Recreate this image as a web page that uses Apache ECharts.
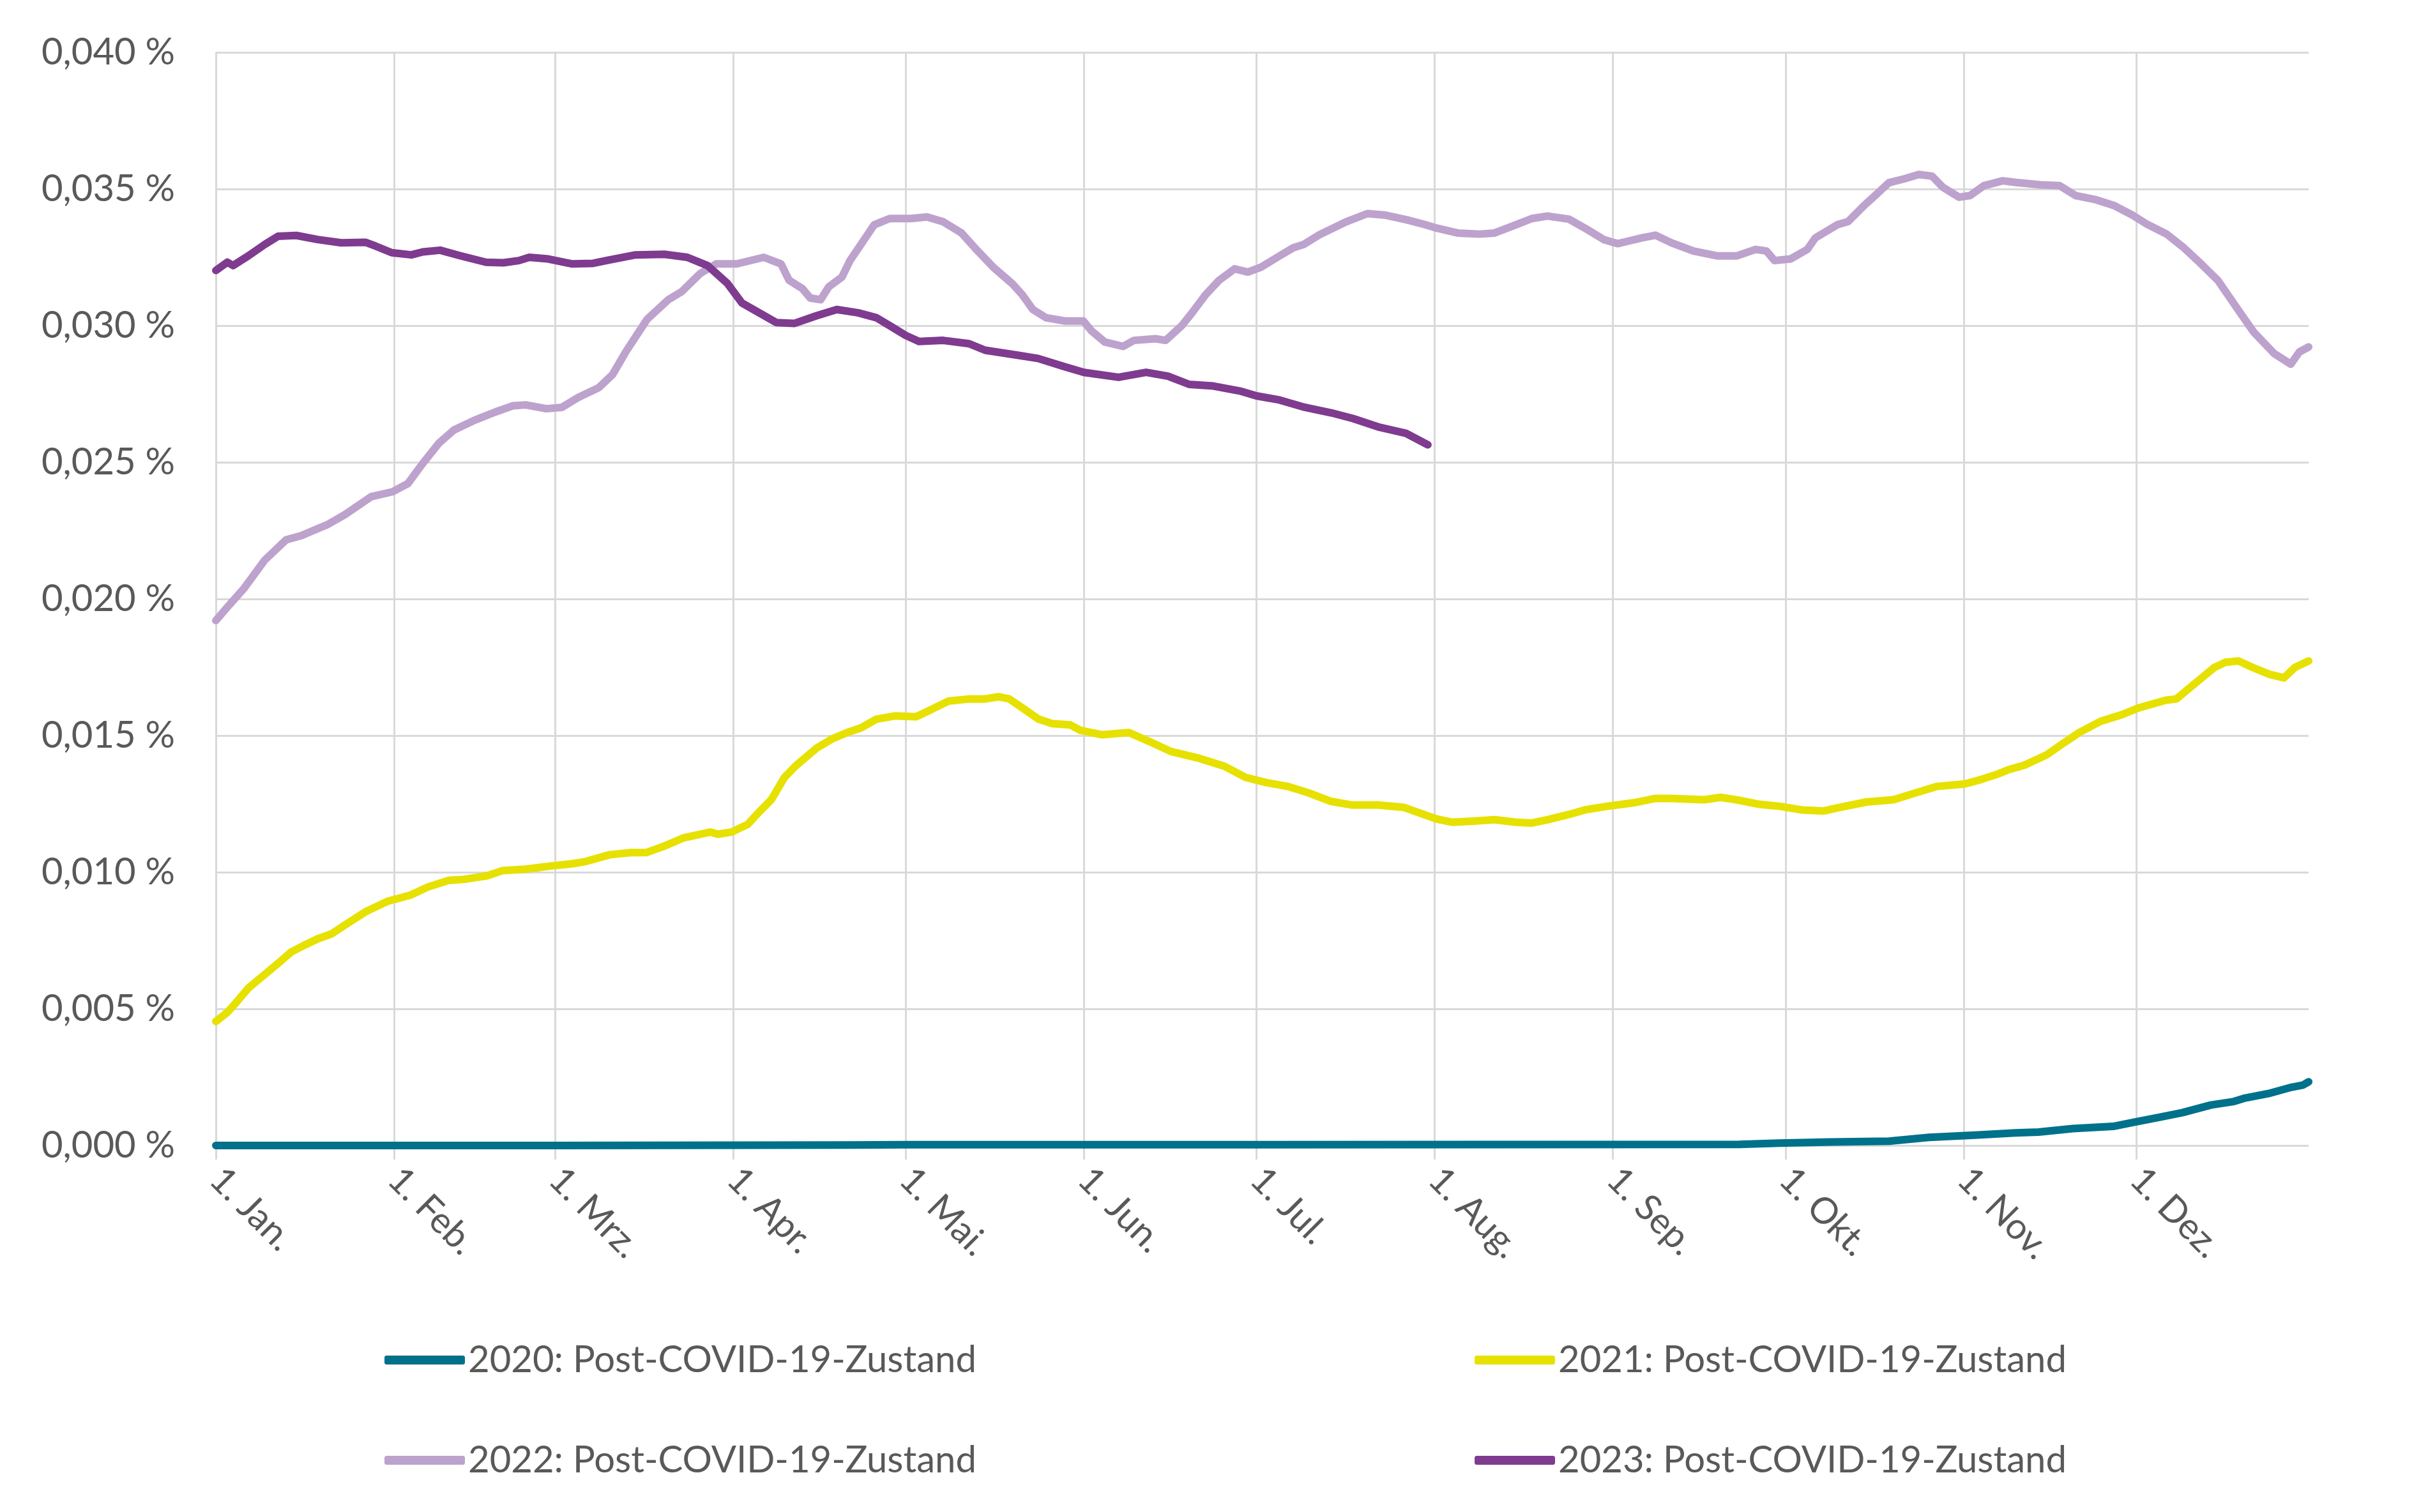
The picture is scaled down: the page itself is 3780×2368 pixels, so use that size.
<!DOCTYPE html>
<html>
<head>
<meta charset="utf-8">
<script src="https://cdn.jsdelivr.net/npm/echarts@6/dist/echarts.min.js"></script>
<style>
html,body{margin:0;padding:0;background:#fff;}
#chart{width:3780px;height:2368px;}
</style>
</head>
<body>
<div id="chart"></div>
<script>
// Day of year (0 = 1. Jan.) and values in %
const monthStarts = [0, 31, 59, 90, 120, 151, 181, 212, 243, 273, 304, 334];
const monthLabels = ['1. Jan.', '1. Feb.', '1. Mrz.', '1. Apr.', '1. Mai.', '1. Jun.', '1. Jul.', '1. Aug.', '1. Sep.', '1. Okt.', '1. Nov.', '1. Dez.'];
const yTicks = [0, 0.005, 0.010, 0.015, 0.020, 0.025, 0.030, 0.035, 0.040];

const seriesNames = ['2020: Post-COVID-19-Zustand', '2021: Post-COVID-19-Zustand', '2022: Post-COVID-19-Zustand', '2023: Post-COVID-19-Zustand'];

const days2020 = [0, 60, 95, 110, 120, 180, 265, 272, 281, 291, 298, 306, 313, 317, 323, 330, 334, 338, 342, 347, 351, 353, 357, 361, 363, 364];
const vals2020 = [0, 0, 0.00001, 0.00002, 0.00003, 0.00003, 0.00004, 0.00009, 0.00013, 0.00016, 0.00030, 0.00038, 0.00046, 0.00049, 0.00062, 0.00070, 0.00087, 0.00103, 0.00120, 0.00148, 0.00161, 0.00174, 0.00190, 0.00213, 0.00221, 0.00233];

const days2021 = [0, 2, 3.4, 5.7, 8.5, 11.3, 13.1, 15.4, 17.8, 20.1, 22.4, 26.1, 29.8, 33.8, 36.9, 40.5, 43.2, 47.2, 49.9, 53.9, 58.4, 62, 64.3, 68.5, 72.2, 74.9, 77.7, 81.4, 86, 87.3, 89.7, 92.5, 94.3, 96.6, 98.9, 100.8, 104.5, 107.1, 109.8, 112.2, 114.9, 118.2, 121.8, 123.7, 127.4, 131.1, 133.8, 136.1, 138, 140.3, 143.1, 145.4, 148.6, 150.4, 154.1, 158.8, 162.4, 166.1, 170.8, 175.4, 179.1, 182.7, 186.4, 190.1, 193.8, 197.5, 202.1, 206.7, 209.5, 212.3, 215, 218.7, 222.4, 226.1, 228.9, 231.6, 235.3, 238.1, 241.9, 246.6, 250.4, 253.2, 258.8, 261.7, 264.5, 268.3, 272.1, 275.8, 279.6, 282.4, 287.1, 291.8, 295.6, 299.4, 304.2, 307, 309.9, 311.8, 314.6, 318.4, 321.2, 324.1, 327.8, 331.6, 334.4, 339.1, 341, 343.8, 347.6, 349.5, 351.8, 354.3, 357.2, 359.7, 361.6, 364];
const vals2021 = [0.00454, 0.00487, 0.0052, 0.00577, 0.00626, 0.00675, 0.00708, 0.00733, 0.00757, 0.00774, 0.00806, 0.00856, 0.00893, 0.00916, 0.00946, 0.0097, 0.00974, 0.00987, 0.01006, 0.01011, 0.01023, 0.01031, 0.01039, 0.01064, 0.01072, 0.01072, 0.01093, 0.01126, 0.01147, 0.01139, 0.01147, 0.01175, 0.01216, 0.01265, 0.01347, 0.01388, 0.01454, 0.01487, 0.01511, 0.01528, 0.0156, 0.01572, 0.01569, 0.01588, 0.01626, 0.01634, 0.01634, 0.01642, 0.01634, 0.01601, 0.0156, 0.01544, 0.01539, 0.01519, 0.01503, 0.01511, 0.01478, 0.01442, 0.01418, 0.01388, 0.01347, 0.01328, 0.01314, 0.0129, 0.0126, 0.01246, 0.01246, 0.01237, 0.01216, 0.01195, 0.01183, 0.01187, 0.01192, 0.01183, 0.0118, 0.01192, 0.01211, 0.01228, 0.01241, 0.01254, 0.0127, 0.0127, 0.01265, 0.01274, 0.01265, 0.01249, 0.01241, 0.01228, 0.01224, 0.01237, 0.01257, 0.01265, 0.0129, 0.01314, 0.01323, 0.01339, 0.01359, 0.01375, 0.01392, 0.01429, 0.0147, 0.01511, 0.01552, 0.01577, 0.01601, 0.01629, 0.01634, 0.01683, 0.01749, 0.01768, 0.01773, 0.01749, 0.01724, 0.01711, 0.01749, 0.01773];

const days2022 = [0, 2, 4.8, 8.5, 12.2, 14.9, 17.7, 19.5, 22.4, 27, 30.7, 33.4, 36.1, 38.8, 41.4, 45, 48.6, 51.7, 53.9, 57.5, 60.2, 63, 66.6, 69, 71.3, 75, 78.7, 81, 84.2, 87, 90.6, 95.3, 98.3, 99.7, 102, 103.4, 105.2, 106.6, 108.9, 110.3, 112.2, 114.5, 117.2, 120.9, 123.7, 126.5, 129.7, 132, 135.2, 138.5, 140.3, 142.1, 144.4, 147.7, 150.9, 152.3, 154.6, 157.8, 159.7, 163.4, 165.2, 168, 169.8, 172.1, 174.5, 177.2, 179.5, 181.8, 184.6, 187.4, 189.2, 192, 196.6, 200.3, 203.5, 207.2, 210.4, 212.3, 216, 219.7, 222.4, 226.1, 228.9, 231.6, 235.3, 238.1, 241.4, 243.8, 245.6, 248, 250.4, 253.2, 257, 261.2, 264.5, 267.8, 269.7, 271.1, 273.9, 276.8, 278.2, 282, 283.9, 286.7, 288.6, 291, 293.8, 296.2, 298.5, 300.4, 303.2, 305.1, 307.5, 310.8, 313.1, 317.4, 320.7, 323.5, 326.8, 330.1, 333.4, 335.9, 339.3, 342.3, 345.2, 348.2, 352.1, 354.5, 358, 360.9, 362.4, 364];
const vals2022 = [0.01921, 0.0197, 0.02036, 0.02142, 0.02216, 0.02232, 0.02257, 0.02273, 0.02308, 0.02374, 0.02392, 0.02422, 0.02499, 0.0257, 0.02618, 0.02654, 0.02684, 0.02707, 0.0271, 0.02696, 0.02701, 0.02737, 0.02773, 0.02821, 0.02904, 0.03023, 0.03095, 0.03124, 0.0319, 0.03226, 0.03226, 0.0325, 0.03226, 0.03166, 0.03136, 0.03101, 0.03095, 0.03142, 0.03178, 0.03238, 0.03297, 0.03369, 0.03392, 0.03392, 0.03398, 0.0338, 0.03339, 0.03285, 0.03214, 0.03154, 0.03112, 0.03059, 0.03029, 0.03017, 0.03017, 0.02981, 0.0294, 0.02924, 0.02946, 0.02952, 0.02946, 0.03, 0.03047, 0.03112, 0.03166, 0.03208, 0.03196, 0.03214, 0.0325, 0.03285, 0.03297, 0.03333, 0.0338, 0.0341, 0.03404, 0.03387, 0.03369, 0.03357, 0.03339, 0.03335, 0.03339, 0.03369, 0.03392, 0.03401, 0.0339, 0.03357, 0.03315, 0.033, 0.03309, 0.03321, 0.03331, 0.03303, 0.03273, 0.03255, 0.03255, 0.03279, 0.03273, 0.03238, 0.03244, 0.03279, 0.03321, 0.03369, 0.03381, 0.0344, 0.03476, 0.03523, 0.03538, 0.03553, 0.03547, 0.03506, 0.0347, 0.03476, 0.03512, 0.0353, 0.03524, 0.03515, 0.03512, 0.03476, 0.03462, 0.0344, 0.03404, 0.03371, 0.03335, 0.03285, 0.03228, 0.03166, 0.03047, 0.02975, 0.02898, 0.02859, 0.02904, 0.02922];

const days2023 = [0, 2, 3, 5.7, 8.5, 10.8, 14, 17.7, 21.8, 26, 27.8, 30.6, 34, 36, 39, 42.5, 47, 50, 52.7, 54.5, 57.8, 62, 65.6, 68.3, 73, 78, 82, 85.5, 89, 91.5, 93.5, 97.5, 100.6, 104.3, 108, 111.7, 114.9, 117.2, 120, 122.3, 126.5, 131, 133.8, 139.4, 143, 147.6, 151, 157, 161.8, 165.6, 169.3, 173.5, 178.1, 181, 185, 189.4, 194, 197.8, 202.4, 207, 210.8];
const vals2023 = [0.03202, 0.03232, 0.0322, 0.03256, 0.03297, 0.03327, 0.0333, 0.03315, 0.03303, 0.03305, 0.03291, 0.03267, 0.03259, 0.0327, 0.03276, 0.03256, 0.03232, 0.0323, 0.03238, 0.0325, 0.03244, 0.03226, 0.03228, 0.0324, 0.03259, 0.03261, 0.0325, 0.0322, 0.03154, 0.03083, 0.03059, 0.03011, 0.03008, 0.03035, 0.03059, 0.03047, 0.03029, 0.03, 0.02964, 0.02942, 0.02946, 0.02934, 0.0291, 0.02892, 0.0288, 0.0285, 0.02829, 0.02811, 0.02829, 0.02815, 0.02785, 0.02779, 0.02761, 0.02743, 0.02728, 0.02701, 0.02681, 0.0266, 0.02628, 0.02606, 0.02564];

const colors = ['#00718B', '#E6E100', '#BDA2CD', '#7F3B8F'];

function zip(d, v) { return d.map((x, i) => [x, v[i]]); }
const allData = [zip(days2020, vals2020), zip(days2021, vals2021), zip(days2022, vals2022), zip(days2023, vals2023)];

const textColor = '#595959';
const font = 'Lato';
const chart = echarts.init(document.getElementById('chart'), null, { renderer: 'canvas' });

const legendText = { color: textColor, fontSize: 58, fontFamily: font, lineHeight: 64 };

chart.setOption({
  animation: false,
  backgroundColor: '#ffffff',
  grid: { left: 338, right: 165, top: 82, bottom: 574, containLabel: false },
  xAxis: {
    type: 'value',
    min: 0,
    max: 364,
    axisLine: { show: false },
    axisTick: { show: true, customValues: monthStarts, length: 22, lineStyle: { color: '#D9D9D9', width: 3 } },
    splitLine: { show: true, lineStyle: { color: '#D9D9D9', width: 3 } },
    axisLabel: {
      customValues: monthStarts,
      rotate: -45,
      margin: 44,
      color: textColor,
      fontSize: 57,
      fontFamily: font,
      formatter: function (v) { const i = monthStarts.indexOf(v); return i >= 0 ? monthLabels[i] : ''; }
    }
  },
  yAxis: {
    type: 'value',
    min: yTicks[0],
    max: yTicks[yTicks.length - 1],
    interval: 0.005,
    axisLine: { show: false },
    axisTick: { show: false },
    splitLine: { show: true, lineStyle: { color: '#D9D9D9', width: 3 } },
    axisLabel: {
      margin: 64,
      color: textColor,
      fontSize: 58,
      fontFamily: font,
      formatter: function (v) { return v.toFixed(3).replace('.', ',') + ' %'; }
    }
  },
  legend: [
    {
      data: [seriesNames[0], seriesNames[2]],
      orient: 'vertical',
      left: 597,
      top: 2093,
      itemWidth: 126,
      itemHeight: 14,
      itemGap: 93,
      icon: 'roundRect',
      textStyle: legendText
    },
    {
      data: [seriesNames[1], seriesNames[3]],
      orient: 'vertical',
      left: 2304,
      top: 2093,
      itemWidth: 126,
      itemHeight: 14,
      itemGap: 93,
      icon: 'roundRect',
      textStyle: legendText
    }
  ],
  series: seriesNames.map((name, i) => ({
    name: name,
    type: 'line',
    data: allData[i],
    showSymbol: false,
    symbol: 'none',
    smooth: false,
    color: colors[i],
    lineStyle: { color: colors[i], width: 12, cap: 'round', join: 'round' },
    z: 2 + i
  }))
});
</script>
</body>
</html>
